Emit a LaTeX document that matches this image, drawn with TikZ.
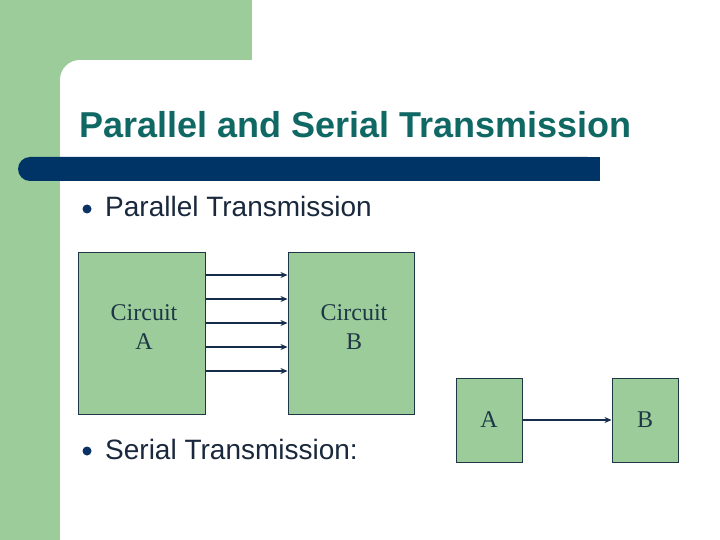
\documentclass[tikz,border=0pt]{standalone}
\usepackage{fontspec}
\setmainfont{Liberation Sans}
\newfontfamily\tnr{Liberation Serif}
\usetikzlibrary{arrows.meta}
\definecolor{bggreen}{RGB}{155,204,153}
\definecolor{barblue}{RGB}{0,51,102}
\definecolor{titleteal}{RGB}{16,104,100}
\definecolor{bodytext}{RGB}{25,40,60}
\definecolor{boxedge}{RGB}{30,55,70}
\definecolor{arrowcol}{RGB}{22,45,75}
\definecolor{bulletcol}{RGB}{10,50,100}
\tikzset{
  box/.style={draw=boxedge, fill=bggreen, line width=1pt, inner sep=0pt},
  boxtext/.style={font=\tnr\fontsize{24}{29}\selectfont, text=boxedge, align=center, inner sep=0pt},
  arr/.style={draw=arrowcol, line width=2pt, -{Stealth[length=7pt,width=6pt]}},
  bodyfont/.style={font=\fontsize{28}{33}\selectfont, text=bodytext, inner sep=0pt, anchor=base west},
}
\begin{document}
\begin{tikzpicture}[x=1pt,y=-1pt]
\useasboundingbox (0,0) rectangle (720,540);
% background
\fill[bggreen] (0,0) rectangle (720,540);
\fill[white] (60,80) rectangle (720,540);
\fill[white] (80,60) rectangle (720,540);
\fill[white] (80,80) circle (20);
\fill[white] (252,0) rectangle (720,60);
% title
\node[font=\fontsize{36}{43}\selectfont\bfseries, text=titleteal, inner sep=0pt, anchor=base west] (title) at (79,138) {Parallel and Serial Transmission};
% bar
\fill[barblue, rounded corners=12] (18,157) rectangle (600,181);
\fill[barblue] (570,157) rectangle (600,181);
% bullets
\fill[bulletcol] (87,209) circle (4.5);
\fill[bulletcol] (87,451) circle (4.5);
\node[bodyfont] (ptx) at (105,217) {Parallel Transmission};
\node[bodyfont] (stx) at (105,459) {Serial Transmission:};
% parallel circuits
\node[box, minimum width=127pt, minimum height=162pt] (ca) at (141.5,333) {};
\node[box, minimum width=126pt, minimum height=162pt] (cb) at (351,333) {};
\node[boxtext] (cat) at (144,327) {Circuit\\A};
\node[boxtext] (cbt) at (354,327) {Circuit\\B};
\foreach \yy in {275,299,323,347,371}{
  \draw[arr] (ca.east |- 0,\yy) -- (cb.west |- 0,\yy);
}
% serial
\node[box, minimum width=66pt, minimum height=84pt, boxtext] (sa) at (489,420) {A};
\node[box, minimum width=66pt, minimum height=84pt, boxtext] (sb) at (645,420) {B};
\draw[arr] (sa) -- (sb);
\end{tikzpicture}
\end{document}
